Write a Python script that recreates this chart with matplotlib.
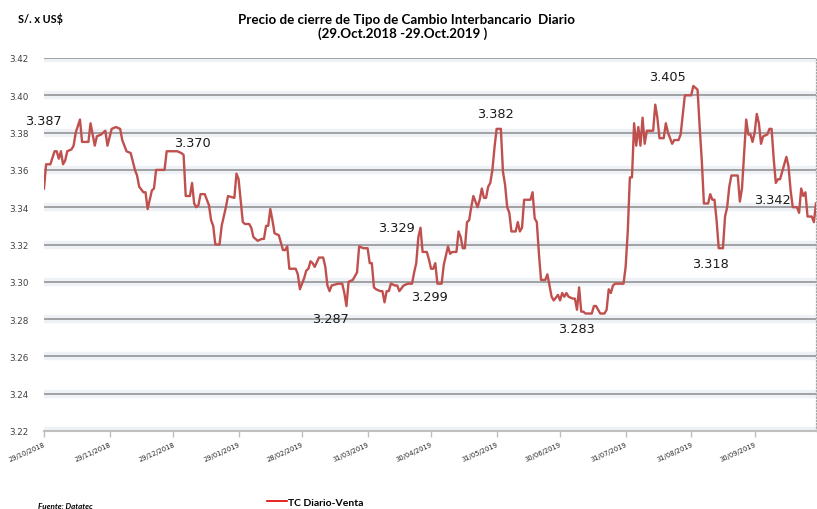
import matplotlib
matplotlib.use("Agg")
import matplotlib.pyplot as plt
import matplotlib.dates as mdates
import pandas as pd

# ---------------- data ----------------
start_date = "2018-10-29"
end_date = "2019-10-29"

days_since_start = [
    0, 1, 3, 5, 6, 7, 8, 9, 10, 11, 13, 14, 15, 17, 18, 21, 22, 24, 25, 27, 29, 30, 32, 34, 36, 37, 39, 41,
    43, 44, 45, 47, 48, 49, 51, 52, 53, 55, 57, 58, 59, 63, 65, 66, 67, 69, 70, 71, 72, 73, 74, 76, 78, 79,
    80, 81, 83, 84, 86, 87, 90, 91,
    92, 94, 95, 97, 98, 99, 101, 103, 104, 105, 106, 107, 108, 109, 111, 112, 113, 114, 115, 116, 119, 120,
    121, 123, 124, 125, 126, 127, 128, 130, 132, 133, 134, 135, 136, 139, 141, 142, 143, 144, 146, 148, 149, 151,
    153, 154, 155, 156, 157, 159, 160, 161, 162, 163, 164, 166, 167, 168, 170, 172, 174, 175, 176, 177, 178, 179,
    181, 182, 183, 184, 185, 186, 188, 189, 190, 191, 192, 193, 195, 196, 197, 198, 199, 200, 201, 202, 203, 204,
    205, 206, 207, 208, 209, 210, 211, 212, 213, 214, 216, 217, 218, 219, 220, 221, 223, 224, 225, 226, 227, 230,
    231, 232, 233, 234, 235, 237, 238, 240, 241, 243,
    244, 245, 246, 247, 248, 250, 251, 252, 253, 254, 255, 256, 259, 260, 261, 263, 265, 266, 267, 268, 269, 270,
    274, 275, 276, 277, 278, 279, 280, 281, 282, 283, 284, 285, 287, 288, 289, 290, 291, 293, 294, 295, 297, 298,
    300, 301, 303, 306, 307, 309, 310, 311, 312, 314, 315, 316, 317, 318, 319, 321, 322, 323, 324, 325, 328, 329,
    330, 332, 333, 334, 335, 336, 337, 338, 339, 340, 342, 343, 344, 345, 346, 347, 348, 350, 351, 352, 353, 354,
    356, 357, 358, 359, 360, 361, 363, 364, 365,
]

tc_diario_venta = [
    3.350, 3.363, 3.363, 3.370, 3.370, 3.366, 3.370, 3.363, 3.365, 3.370, 3.371, 3.373, 3.380, 3.387, 3.375, 3.375,
    3.385, 3.373, 3.378, 3.379, 3.381, 3.373, 3.382, 3.383, 3.382, 3.376, 3.370, 3.369,
    3.360, 3.357, 3.351, 3.348, 3.348, 3.339, 3.349, 3.350, 3.360, 3.360, 3.360, 3.370, 3.370, 3.370, 3.369, 3.368,
    3.346, 3.346, 3.353, 3.342, 3.340, 3.341, 3.347, 3.347, 3.341, 3.333,
    3.330, 3.320, 3.320, 3.330, 3.340, 3.346, 3.345, 3.358,
    3.355, 3.332, 3.331, 3.331, 3.329, 3.324, 3.322, 3.323, 3.323, 3.330, 3.330, 3.339, 3.333, 3.326, 3.325, 3.321,
    3.317, 3.317, 3.319, 3.307, 3.307, 3.304,
    3.296, 3.302, 3.306, 3.307, 3.311, 3.310, 3.308, 3.313, 3.313, 3.308, 3.298, 3.295, 3.298, 3.299, 3.299, 3.294,
    3.287, 3.300, 3.301, 3.305, 3.319, 3.318,
    3.318, 3.310, 3.310, 3.297, 3.296, 3.295, 3.295, 3.289, 3.295, 3.295, 3.299, 3.298, 3.298, 3.295, 3.298, 3.299,
    3.299, 3.305, 3.310, 3.324, 3.329, 3.316,
    3.316, 3.312, 3.307, 3.307, 3.310, 3.299, 3.299, 3.309, 3.314, 3.319, 3.315, 3.316, 3.316, 3.327, 3.324, 3.318,
    3.318, 3.332, 3.333, 3.340, 3.346, 3.343,
    3.340, 3.344, 3.350, 3.345, 3.345, 3.351, 3.353, 3.360, 3.372, 3.382, 3.382, 3.359, 3.352, 3.340, 3.337, 3.327,
    3.327, 3.332, 3.327, 3.329, 3.344, 3.344,
    3.348, 3.334, 3.332, 3.315, 3.301, 3.301, 3.304, 3.292, 3.290, 3.293,
    3.290, 3.294, 3.292, 3.294, 3.292, 3.291, 3.291, 3.285, 3.297, 3.284, 3.284, 3.283, 3.283, 3.287, 3.287, 3.283,
    3.283, 3.285, 3.296, 3.294, 3.298, 3.299,
    3.299, 3.308, 3.327, 3.356, 3.356, 3.385, 3.373, 3.383, 3.373, 3.388, 3.374, 3.381, 3.381, 3.381, 3.395, 3.388,
    3.377, 3.377, 3.385, 3.380, 3.374, 3.376,
    3.376, 3.379, 3.400, 3.400, 3.405, 3.403, 3.383, 3.365, 3.342, 3.342, 3.347, 3.344, 3.344, 3.333, 3.318, 3.318,
    3.335, 3.340, 3.351, 3.357, 3.357, 3.343,
    3.350, 3.387, 3.379, 3.379, 3.375, 3.380, 3.390, 3.385, 3.374, 3.378, 3.379, 3.382, 3.382, 3.366, 3.353, 3.355,
    3.355, 3.363, 3.367, 3.362, 3.349, 3.340,
    3.340, 3.337, 3.350, 3.346, 3.348, 3.335, 3.335, 3.332, 3.342,
]

x_tick_dates = ["2018-10-29", "2018-11-29", "2018-12-29", "2019-01-29", "2019-02-28", "2019-03-31",
                "2019-04-30", "2019-05-31", "2019-06-30", "2019-07-31", "2019-08-31", "2019-09-30"]
y_ticks = [3.22, 3.24, 3.26, 3.28, 3.30, 3.32, 3.34, 3.36, 3.38, 3.40, 3.42]

label_texts = ["3.387", "3.370", "3.287", "3.329", "3.299", "3.382", "3.283", "3.405", "3.318", "3.342"]
label_days = [17, 58, 143, 178, 187, 215, 257, 307, 320, 365]
label_values = [3.387, 3.370, 3.287, 3.329, 3.299, 3.382, 3.283, 3.405, 3.318, 3.342]

# ---------------- figure ----------------
W, H = 817, 510
fig = plt.figure(figsize=(W / 100, H / 100), dpi=100)
fig.patch.set_facecolor("white")
ax = fig.add_axes([44 / W, 1 - 432 / H, (816 - 44) / W, (432 - 59) / H])

base = pd.to_datetime(start_date)
dates = base + pd.to_timedelta(days_since_start, unit="D")

# gridlines with soft shadow
for yv in y_ticks[1:]:
    ax.axhline(yv, color="#eef1f6", lw=6, zorder=1)
    ax.axhline(yv, color="#8c8c8c", lw=1.1, zorder=2)
ax.axhline(y_ticks[0], color="#eef1f6", lw=6, zorder=1)

line, = ax.plot(dates, tc_diario_venta, color="#c0504d", lw=1.7, zorder=3,
                label="TC Diario-Venta", solid_joinstyle="round")

ax.set_xlim(pd.to_datetime(start_date), pd.to_datetime(end_date))
ax.set_ylim(y_ticks[0], y_ticks[-1])
ax.set_yticks(y_ticks)
ax.set_yticklabels([f"{v:.2f}" for v in y_ticks])

xt = pd.to_datetime(x_tick_dates)
ax.set_xticks(xt)
ax.set_xticklabels([d.strftime("%d/%m/%Y") for d in xt], fontsize=4.9, rotation=24,
                   ha="right", rotation_mode="anchor", color="#262626")

for s in ["top", "left"]:
    ax.spines[s].set_visible(False)
ax.spines["bottom"].set_color("#bfbfbf")
ax.spines["bottom"].set_linewidth(1.5)
ax.spines["right"].set_color("#a6a6a6")
ax.spines["right"].set_linestyle(":")
ax.spines["right"].set_linewidth(0.9)
ax.tick_params(axis="x", length=4, width=1, color="#bfbfbf", pad=3)
ax.tick_params(axis="y", length=0, pad=11, labelsize=6.3, labelcolor="#404040")
ax.set_facecolor("white")

# value labels (offsets in pixels: dx, dy-up)
offsets_px = [(-37, -1), (26, 9), (-16, -12), (-24, 0), (-10, -13), (-3, 15), (-11, -15), (-26, 9), (-10, -15), (-44, 4)]
for txt, d, v, (dx, dy) in zip(label_texts, label_days, label_values, offsets_px):
    ax.annotate(txt, xy=(base + pd.Timedelta(days=d), v), xytext=(dx * 0.72, dy * 0.72),
                textcoords="offset points", ha="center", va="center", fontsize=9.3,
                color="#1a1a1a", zorder=5, annotation_clip=False)

# titles and texts
fig.text(406 / W, 1 - 19.5 / H, "Precio de cierre de Tipo de Cambio Interbancario  Diario",
         ha="center", va="center", fontsize=9.6, fontweight="bold", family="Lato")
fig.text(403 / W, 1 - 34 / H, "(29.Oct.2018 -29.Oct.2019 )",
         ha="center", va="center", fontsize=9.6, fontweight="bold", family="Lato")
fig.text(18 / W, 1 - 19 / H, "S/. x US$", ha="left", va="center", fontsize=7.8,
         fontweight="bold", family="Lato")
fig.text(38 / W, 1 - 507 / H, "Fuente: Datatec", ha="left", va="center", fontsize=5.8,
         fontweight="bold", style="italic", family="Lato")

leg = fig.legend(handles=[line], loc="center left", bbox_to_anchor=(262 / W, 1 - 503 / H),
                 frameon=False, handlelength=1.9, handletextpad=0.1, borderpad=0,
                 prop={"family": "Lato", "weight": "bold", "size": 7.5})
leg.get_lines()[0].set_color("#e00000")
leg.get_lines()[0].set_linewidth(1.2)

fig.savefig("out.png", dpi=100)
